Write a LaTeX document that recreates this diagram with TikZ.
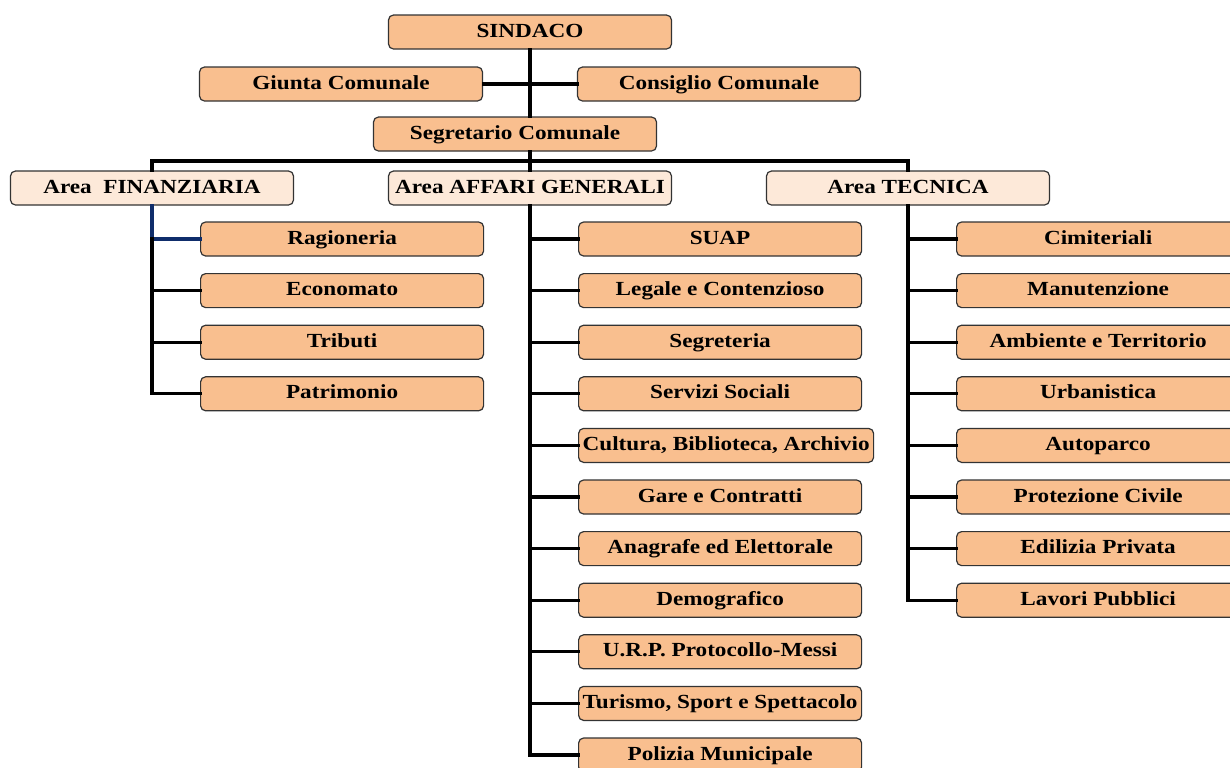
\documentclass[tikz,border=0pt]{standalone}
\usepackage{fontspec}
\setmainfont{Liberation Serif}[FakeStretch=1.16]
\usetikzlibrary{positioning}
\definecolor{pesca}{HTML}{F9BF8F}
\definecolor{pescachiaro}{HTML}{FDE9D9}
\definecolor{blunotte}{HTML}{0F2D6B}
\tikzset{
	box/.style={draw=black!80,line width=0.6pt,rounded corners=2.5pt,fill=pesca,
		minimum width=141.5pt,minimum height=17pt,inner xsep=2pt,inner ysep=0pt,
		text height=7.5pt,text depth=2.5pt,
		font=\fontsize{10}{12}\selectfont\bfseries},
	area/.style={box,fill=pescachiaro},
	ufficio/.style={box,anchor=west},
	link/.style={line width=1.6pt,line cap=rect}
}
\begin{document}
\begin{tikzpicture}[x=0.5pt,y=-0.5pt]
		\useasboundingbox (0,0) rectangle (1230,767);
		\clip (0,0) rectangle (1230,767);
		
		\node[box] (sind) at (530,32) {SINDACO};
		\node[box] (giu) at (341,84) {Giunta Comunale};
		\node[box] (con) at (719,84) {Consiglio Comunale};
		\node[box] (seg) at (515,134) {Segretario Comunale};
		
		\node[area] (fin) at (152,188) {Area\ \ FINANZIARIA};
		\node[area] (aff) at (530,188) {Area AFFARI GENERALI};
		\node[area] (tec) at (908,188) {Area TECNICA};
		
		\foreach \txt [count=\i] in {Ragioneria,Economato,Tributi,Patrimonio}
			\node[ufficio] (fi\i) at (200,{239+51.6*(\i-1)}) {\txt};
		
		\foreach \txt [count=\i] in {SUAP,Legale e Contenzioso,Segreteria,Servizi Sociali,
			{Cultura, Biblioteca, Archivio},Gare e Contratti,Anagrafe ed Elettorale,Demografico,
			U.R.P. Protocollo-Messi,{Turismo, Sport e Spettacolo},Polizia Municipale}
			\node[ufficio] (ag\i) at (578,{239+51.6*(\i-1)}) {\txt};
		
		\foreach \txt [count=\i] in {Cimiteriali,Manutenzione,Ambiente e Territorio,Urbanistica,
			Autoparco,Protezione Civile,Edilizia Privata,Lavori Pubblici}
			\node[ufficio] (tc\i) at (956,{239+51.6*(\i-1)}) {\txt};
		
		\coordinate (bus) at (530,161);
		
		\draw[link] (sind.south) -- (sind.south |- seg.north);
		\draw[link] (giu.east) -- (con.west);
		\draw[link] (sind.south |- seg.south) -- (bus);
		\draw[link] (fin.north) |- (bus) -| (tec.north);
		\draw[link] (bus) -- (aff.north);
		
		\draw[link,blunotte] (fin.south) |- (fi1.west);
		\draw[link] (fin.south |- fi1.west) |- (fi4.west);
		\foreach \i in {2,3}
			\draw[link] (fin.south |- fi\i.west) -- (fi\i.west);
		
		\draw[link] (aff.south) |- (ag11.west);
		\foreach \i in {1,...,10}
			\draw[link] (aff.south |- ag\i.west) -- (ag\i.west);
		
		\draw[link] (tec.south) |- (tc8.west);
		\foreach \i in {1,...,7}
			\draw[link] (tec.south |- tc\i.west) -- (tc\i.west);
	\end{tikzpicture}
\end{document}
